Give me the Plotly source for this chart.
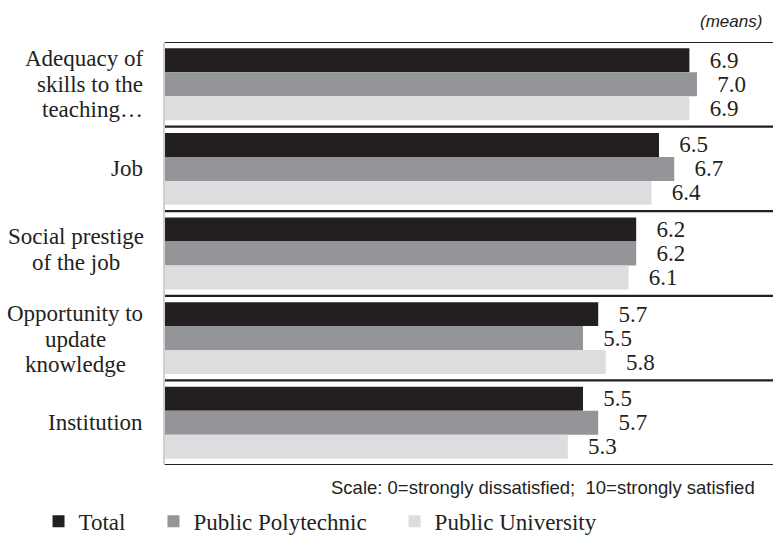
import plotly.graph_objects as go

# Satisfaction items (top to bottom), one list entry per printed line
categories = [
    ["Adequacy of", "skills to the", "teaching…"],
    ["Job"],
    ["Social prestige", "of the job"],
    ["Opportunity to", "update", "knowledge"],
    ["Institution"],
]
total = [6.9, 6.5, 6.2, 5.7, 5.5]
polytechnic = [7.0, 6.7, 6.2, 5.5, 5.7]
university = [6.9, 6.4, 6.1, 5.8, 5.3]

series_names = ["Total", "Public Polytechnic", "Public University"]
series_colors = ["#231f20", "#939598", "#dcdddf"]

SERIF = "Liberation Serif"
SANS = "Liberation Sans"
INK = "#231f20"
NB = "\u00a0"
PLOT_LEFT = 165          # px, left margin of the plotting area
LINE_STEP = 25.5         # px between wrapped label lines

# how each wrapped label block is set: (anchor, x in px from the left edge, vertical nudge)
label_layout = [
    ("right", 145, 0),
    ("right", 145, 0),
    ("center", 76, -4),
    ("center", 75, 1),
    ("right", 145, 0),
]

fig = go.Figure()
for name, vals, col in zip(series_names, [total, polytechnic, university], series_colors):
    fig.add_trace(go.Bar(
        y=list(range(len(categories))),
        x=vals,
        orientation="h",
        name=name + NB * 4,
        marker=dict(color=col, line=dict(width=0)),
        text=[f"{v:.1f}" for v in vals],
        texttemplate=NB * 3 + "%{text}",
        textposition="outside",
        constraintext="none",
        cliponaxis=False,
        textfont=dict(family=SERIF, size=23, color=INK),
        hoverinfo="skip",
    ))

# Category labels, one annotation per wrapped line
annotations = []
for i, (lines, (anchor, xpx, nudge)) in enumerate(zip(categories, label_layout)):
    n = len(lines)
    for j, line in enumerate(lines):
        offset = (j - (n - 1) / 2) * LINE_STEP + nudge
        annotations.append(dict(
            x=0, xref="paper", xanchor=anchor, xshift=xpx - PLOT_LEFT,
            y=i, yref="y", yanchor="middle", yshift=-offset,
            text=line, showarrow=False,
            font=dict(family=SERIF, size=23, color=INK),
        ))

annotations.append(dict(
    x=1, xref="paper", xanchor="right", xshift=-9,
    y=1.049, yref="paper", yanchor="middle",
    text="<i>(means)</i>", showarrow=False,
    font=dict(family=SANS, size=17, color=INK),
))
annotations.append(dict(
    x=1, xref="paper", xanchor="right", xshift=-16,
    y=-0.053, yref="paper", yanchor="middle",
    text="Scale: 0=strongly dissatisfied;" + NB * 2 + "10=strongly satisfied",
    showarrow=False,
    font=dict(family=SANS, size=18.5, color=INK),
))

# Horizontal rules framing each group of bars
shapes = []
for k in range(len(categories) + 1):
    shapes.append(dict(
        type="line", xref="paper", x0=0, x1=1,
        yref="y", y0=k - 0.5, y1=k - 0.5,
        line=dict(color=INK, width=2.2),
    ))

fig.update_layout(
    width=773, height=543,
    margin=dict(l=PLOT_LEFT, r=0, t=42, b=72),
    paper_bgcolor="white", plot_bgcolor="white",
    barmode="group", bargap=0.15, bargroupgap=0,
    showlegend=True,
    legend=dict(
        orientation="h", x=-0.208, xanchor="left",
        y=-0.133, yanchor="middle",
        font=dict(family=SERIF, size=23, color=INK),
        traceorder="normal",
        bgcolor="rgba(0,0,0,0)",
    ),
    xaxis=dict(range=[0, 8], showgrid=False, zeroline=False,
               showticklabels=False, ticks="", showline=False),
    yaxis=dict(range=[4.5, -0.5], showgrid=False, zeroline=False,
               showticklabels=False, ticks="",
               showline=True, linecolor="#cfcfcf", linewidth=2),
    annotations=annotations,
    shapes=shapes,
)

fig.write_html("out.html")
